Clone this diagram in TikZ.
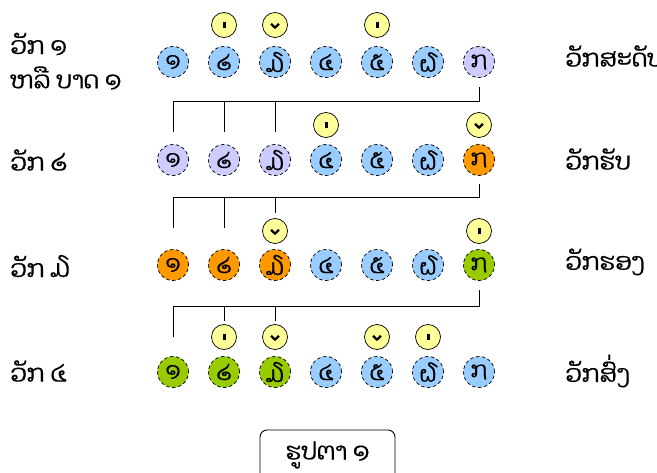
\documentclass[tikz,border=0pt]{standalone}
\usepackage{fontspec}
\newfontfamily\laofont[Script=Lao,FakeBold=0.5]{Dhyana}
\definecolor{cblue}{HTML}{99CCFF}
\definecolor{clav}{HTML}{CCCCFF}
\definecolor{corange}{HTML}{FF9900}
\definecolor{cgreen}{HTML}{99CC00}
\definecolor{cyel}{HTML}{FFFF99}
\newcommand\dotmk[1]{\fill ([shift={(-1.5,-3.2)}]#1.center) rectangle ([shift={(1.5,3.2)}]#1.center);}
\newcommand\vmk[1]{\draw[line width=2.3pt] ([shift={(-4,-1.2)}]#1.center) -- ([shift={(0,2.6)}]#1.center) -- ([shift={(4,-1.2)}]#1.center);}
\begin{document}
\begin{tikzpicture}[x=1pt,y=-1pt,
  note/.style={circle, draw=black, dash pattern=on 3.5pt off 2.5pt, line width=0.7pt, minimum size=31pt, inner sep=0pt, font=\laofont\fontsize{22}{22}\selectfont},
  ymk/.style={circle, draw=black, line width=0.7pt, fill=cyel, minimum size=25pt, inner sep=0pt},
  lbl/.style={anchor=west, inner sep=0pt, font=\laofont\fontsize{24}{28}\selectfont},
  link/.style={draw, line width=0.9pt}
]
\useasboundingbox (0,0) rectangle (657,473);
\clip (0,0) rectangle (657,473);
% row 1
\foreach \i/\d/\c in {1/໑/cblue,2/໒/cblue,3/໓/cblue,4/໔/cblue,5/໕/cblue,6/໖/cblue,7/໗/clav}
  \node[note, fill=\c] (a\i) at ({173+51*(\i-1)},62) {\d};
% row 2
\foreach \i/\d/\c in {1/໑/clav,2/໒/clav,3/໓/clav,4/໔/cblue,5/໕/cblue,6/໖/cblue,7/໗/corange}
  \node[note, fill=\c] (b\i) at ({173+51*(\i-1)},160) {\d};
% row 3
\foreach \i/\d/\c in {1/໑/corange,2/໒/corange,3/໓/corange,4/໔/cblue,5/໕/cblue,6/໖/cblue,7/໗/cgreen}
  \node[note, fill=\c] (c\i) at ({173+51*(\i-1)},265) {\d};
% row 4
\foreach \i/\d/\c in {1/໑/cgreen,2/໒/cgreen,3/໓/cgreen,4/໔/cblue,5/໕/cblue,6/໖/cblue,7/໗/cblue}
  \node[note, fill=\c] (d\i) at ({173+51*(\i-1)},372) {\d};

% yellow marks
\node[ymk] (ma2) at (224,25) {}; \dotmk{ma2}
\node[ymk] (ma3) at (275,25) {}; \vmk{ma3}
\node[ymk] (ma5) at (377,25) {}; \dotmk{ma5}
\node[ymk] (mb4) at (326,125) {}; \dotmk{mb4}
\node[ymk] (mb7) at (479,125) {}; \vmk{mb7}
\node[ymk] (mc3) at (275,231) {}; \vmk{mc3}
\node[ymk] (mc7) at (479,231) {}; \dotmk{mc7}
\node[ymk] (md2) at (224,337) {}; \dotmk{md2}
\node[ymk] (md3) at (275,337) {}; \vmk{md3}
\node[ymk] (md5) at (377,337) {}; \vmk{md5}
\node[ymk] (md6) at (428,337) {}; \dotmk{md6}

% brackets
\coordinate (h1) at (0,101);
\coordinate (h2) at (0,197);
\coordinate (h3) at (0,306);
\draw[link] ([shift={(0,9)}]a7.south) -- (a7.south |- h1) -- (b1.north |- h1) -- ([shift={(0,-12)}]b1.north);
\draw[link] (b2.north |- h1) -- ([shift={(0,-12)}]b2.north);
\draw[link] (b3.north |- h1) -- ([shift={(0,-12)}]b3.north);
\draw[link] ([shift={(0,8)}]b7.south) -- (b7.south |- h2) -- (c1.north |- h2) -- ([shift={(0,-21)}]c1.north);
\draw[link] (c2.north |- h2) -- ([shift={(0,-21)}]c2.north);
\draw[link] (mc3.north |- h2) -- ([shift={(0,-5.5)}]mc3.north);
\draw[link] ([shift={(0,9)}]c7.south) -- (c7.south |- h3) -- (d1.north |- h3) -- ([shift={(0,-19)}]d1.north);
\draw[link] (md2.north |- h3) -- ([shift={(0,-3.5)}]md2.north);
\draw[link] (md3.north |- h3) -- ([shift={(0,-3.5)}]md3.north);

% labels
\node[lbl] (l1) at (10,44) {ວັກ ໑};
\node[lbl] (l1b) at (10,78) {ຫລື ບາດ ໑};
\node[lbl] (l2) at (10,160) {ວັກ ໒};
\node[lbl] (l3) at (10,266) {ວັກ ໓};
\node[lbl] (l4) at (10,371) {ວັກ ໔};
\node[lbl] (r1) at (565,56) {ວັກສະດັບ};
\node[lbl] (r2) at (565,159) {ວັກຮັບ};
\node[lbl] (r3) at (565,262) {ວັກຮອງ};
\node[lbl] (r4) at (565,371) {ວັກສົ່ງ};

% caption
\node[draw, line width=0.9pt, rounded corners=7pt, minimum width=135pt, minimum height=50pt, font=\laofont\fontsize{24}{28}\selectfont] (cap) at (327.5,455) {ຮູປຕາ ໑};
\end{tikzpicture}
\end{document}
